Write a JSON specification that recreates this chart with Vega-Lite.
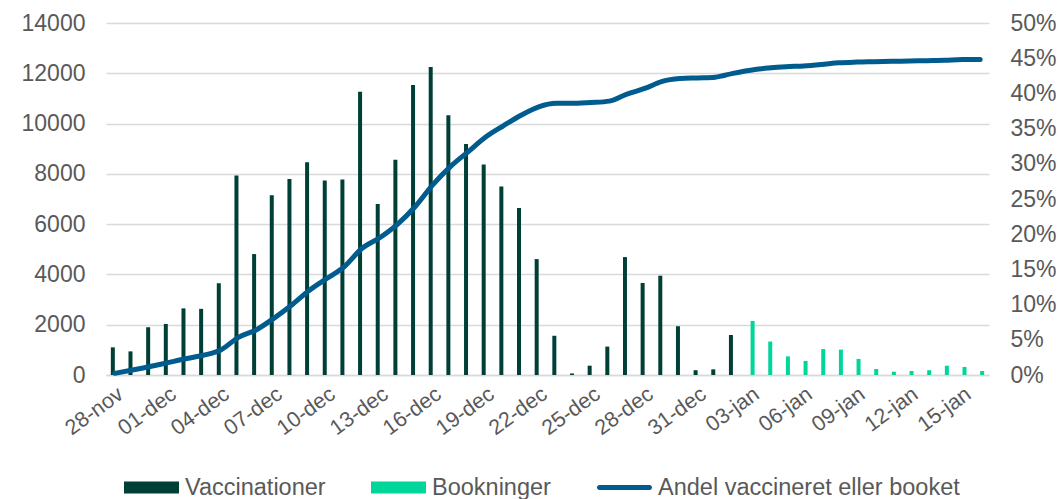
{
  "$schema": "https://vega.github.io/schema/vega-lite/v6.json",
  "width": 883,
  "height": 352,
  "autosize": {"type": "none"},
  "padding": {"left": 106, "top": 23, "right": 72, "bottom": 124},
  "config": {
    "view": {"stroke": null},
    "font": "Liberation Sans",
    "axis": {"labelFont": "Liberation Sans", "labelColor": "#595959", "labelFontSize": 23, "ticks": false, "tickSize": 0, "title": null, "domain": false, "gridColor": "#d9d9d9", "gridWidth": 1.5}
  },
  "datasets": {
    "bars": [
      {"date": "28-nov", "serie": "Vaccinationer", "value": 1100},
      {"date": "29-nov", "serie": "Vaccinationer", "value": 940},
      {"date": "30-nov", "serie": "Vaccinationer", "value": 1900},
      {"date": "01-dec", "serie": "Vaccinationer", "value": 2030},
      {"date": "02-dec", "serie": "Vaccinationer", "value": 2650},
      {"date": "03-dec", "serie": "Vaccinationer", "value": 2630},
      {"date": "04-dec", "serie": "Vaccinationer", "value": 3650},
      {"date": "05-dec", "serie": "Vaccinationer", "value": 7930},
      {"date": "06-dec", "serie": "Vaccinationer", "value": 4810},
      {"date": "07-dec", "serie": "Vaccinationer", "value": 7150},
      {"date": "08-dec", "serie": "Vaccinationer", "value": 7800},
      {"date": "09-dec", "serie": "Vaccinationer", "value": 8460},
      {"date": "10-dec", "serie": "Vaccinationer", "value": 7740},
      {"date": "11-dec", "serie": "Vaccinationer", "value": 7780},
      {"date": "12-dec", "serie": "Vaccinationer", "value": 11270},
      {"date": "13-dec", "serie": "Vaccinationer", "value": 6800},
      {"date": "14-dec", "serie": "Vaccinationer", "value": 8560},
      {"date": "15-dec", "serie": "Vaccinationer", "value": 11530},
      {"date": "16-dec", "serie": "Vaccinationer", "value": 12250},
      {"date": "17-dec", "serie": "Vaccinationer", "value": 10330},
      {"date": "18-dec", "serie": "Vaccinationer", "value": 9190},
      {"date": "19-dec", "serie": "Vaccinationer", "value": 8370},
      {"date": "20-dec", "serie": "Vaccinationer", "value": 7500},
      {"date": "21-dec", "serie": "Vaccinationer", "value": 6640},
      {"date": "22-dec", "serie": "Vaccinationer", "value": 4610},
      {"date": "23-dec", "serie": "Vaccinationer", "value": 1560},
      {"date": "24-dec", "serie": "Vaccinationer", "value": 60},
      {"date": "25-dec", "serie": "Vaccinationer", "value": 370},
      {"date": "26-dec", "serie": "Vaccinationer", "value": 1130},
      {"date": "27-dec", "serie": "Vaccinationer", "value": 4690},
      {"date": "28-dec", "serie": "Vaccinationer", "value": 3660},
      {"date": "29-dec", "serie": "Vaccinationer", "value": 3950},
      {"date": "30-dec", "serie": "Vaccinationer", "value": 1940},
      {"date": "31-dec", "serie": "Vaccinationer", "value": 190},
      {"date": "01-jan", "serie": "Vaccinationer", "value": 225},
      {"date": "02-jan", "serie": "Vaccinationer", "value": 1590},
      {"date": "03-jan", "serie": "Bookninger", "value": 2150},
      {"date": "04-jan", "serie": "Bookninger", "value": 1330},
      {"date": "05-jan", "serie": "Bookninger", "value": 740},
      {"date": "06-jan", "serie": "Bookninger", "value": 560},
      {"date": "07-jan", "serie": "Bookninger", "value": 1030},
      {"date": "08-jan", "serie": "Bookninger", "value": 1010},
      {"date": "09-jan", "serie": "Bookninger", "value": 640},
      {"date": "10-jan", "serie": "Bookninger", "value": 240},
      {"date": "11-jan", "serie": "Bookninger", "value": 130},
      {"date": "12-jan", "serie": "Bookninger", "value": 160},
      {"date": "13-jan", "serie": "Bookninger", "value": 190},
      {"date": "14-jan", "serie": "Bookninger", "value": 370},
      {"date": "15-jan", "serie": "Bookninger", "value": 320},
      {"date": "16-jan", "serie": "Bookninger", "value": 160}
    ],
    "line": [
      {"date": "28-nov", "andel": 0.0024},
      {"date": "29-nov", "andel": 0.007},
      {"date": "30-nov", "andel": 0.012},
      {"date": "01-dec", "andel": 0.0175},
      {"date": "02-dec", "andel": 0.023},
      {"date": "03-dec", "andel": 0.028},
      {"date": "04-dec", "andel": 0.0355},
      {"date": "05-dec", "andel": 0.0535},
      {"date": "06-dec", "andel": 0.064},
      {"date": "07-dec", "andel": 0.0805},
      {"date": "08-dec", "andel": 0.099},
      {"date": "09-dec", "andel": 0.12},
      {"date": "10-dec", "andel": 0.137},
      {"date": "11-dec", "andel": 0.154},
      {"date": "12-dec", "andel": 0.18},
      {"date": "13-dec", "andel": 0.195},
      {"date": "14-dec", "andel": 0.214},
      {"date": "15-dec", "andel": 0.239},
      {"date": "16-dec", "andel": 0.27},
      {"date": "17-dec", "andel": 0.296},
      {"date": "18-dec", "andel": 0.317},
      {"date": "19-dec", "andel": 0.338},
      {"date": "20-dec", "andel": 0.354},
      {"date": "21-dec", "andel": 0.369},
      {"date": "22-dec", "andel": 0.381},
      {"date": "23-dec", "andel": 0.386},
      {"date": "24-dec", "andel": 0.386},
      {"date": "25-dec", "andel": 0.387},
      {"date": "26-dec", "andel": 0.389},
      {"date": "27-dec", "andel": 0.399},
      {"date": "28-dec", "andel": 0.407},
      {"date": "29-dec", "andel": 0.417},
      {"date": "30-dec", "andel": 0.421},
      {"date": "31-dec", "andel": 0.422},
      {"date": "01-jan", "andel": 0.423},
      {"date": "02-jan", "andel": 0.4285},
      {"date": "03-jan", "andel": 0.433},
      {"date": "04-jan", "andel": 0.436},
      {"date": "05-jan", "andel": 0.438},
      {"date": "06-jan", "andel": 0.439},
      {"date": "07-jan", "andel": 0.441},
      {"date": "08-jan", "andel": 0.4435},
      {"date": "09-jan", "andel": 0.4445},
      {"date": "10-jan", "andel": 0.445},
      {"date": "11-jan", "andel": 0.4455},
      {"date": "12-jan", "andel": 0.446},
      {"date": "13-jan", "andel": 0.4465},
      {"date": "14-jan", "andel": 0.447},
      {"date": "15-jan", "andel": 0.448},
      {"date": "16-jan", "andel": 0.448}
    ]
  },
  "layer": [
    {
      "data": {"name": "bars"},
      "mark": {"type": "bar"},
      "encoding": {
        "x": {
          "field": "date", "type": "ordinal",
          "scale": {
            "domain": ["28-nov","29-nov","30-nov","01-dec","02-dec","03-dec","04-dec","05-dec","06-dec","07-dec","08-dec","09-dec","10-dec","11-dec","12-dec","13-dec","14-dec","15-dec","16-dec","17-dec","18-dec","19-dec","20-dec","21-dec","22-dec","23-dec","24-dec","25-dec","26-dec","27-dec","28-dec","29-dec","30-dec","31-dec","01-jan","02-jan","03-jan","04-jan","05-jan","06-jan","07-jan","08-jan","09-jan","10-jan","11-jan","12-jan","13-jan","14-jan","15-jan","16-jan"],
            "paddingInner": 0.547, "paddingOuter": 0.2735
          },
          "axis": {
            "values": ["28-nov","01-dec","04-dec","07-dec","10-dec","13-dec","16-dec","19-dec","22-dec","25-dec","28-dec","31-dec","03-jan","06-jan","09-jan","12-jan","15-jan"],
            "labelAngle": -36, "labelFontSize": 21.5, "labelPadding": 8, "domain": true, "domainColor": "#d9d9d9", "domainWidth": 1.5, "grid": false
          }
        },
        "xOffset": {"field": "serie", "type": "nominal", "scale": {"domain": ["Vaccinationer", "Bookninger"], "paddingInner": 0}},
        "y": {
          "field": "value", "type": "quantitative",
          "scale": {"domain": [0, 14000]},
          "axis": {"values": [0,2000,4000,6000,8000,10000,12000,14000], "format": "d", "grid": true, "labelPadding": 21, "orient": "left"}
        },
        "color": {
          "field": "serie", "type": "nominal",
          "scale": {"domain": ["Vaccinationer", "Bookninger", "Andel vaccineret eller booket"], "range": ["#003f36", "#00d59a", "#005b8e"]},
          "legend": {
            "title": null, "orient": "none", "legendX": 18, "legendY": 437, "direction": "horizontal",
            "labelFont": "Liberation Sans", "labelFontSize": 23.5, "labelColor": "#595959", "labelLimit": 400,
            "symbolSize": 3025, "symbolStrokeWidth": 0, "labelOffset": 6, "columnPadding": 45,
            "symbolType": "M-1,-0.22H1V0.22H-1Z",
            "encode": {"symbols": {"update": {"shape": {"signal": "datum.value === 'Andel vaccineret eller booket' ? 'M-0.91,-0.09H0.91A0.09,0.09 0 0 1 0.91,0.09H-0.91A0.09,0.09 0 0 1 -0.91,-0.09Z' : 'M-1,-0.22H1V0.22H-1Z'"}}}}
          }
        }
      }
    },
    {
      "data": {"name": "line"},
      "mark": {"type": "line", "strokeWidth": 5, "strokeCap": "round", "strokeJoin": "round", "interpolate": "monotone"},
      "encoding": {
        "x": {"field": "date", "type": "ordinal"},
        "y": {
          "field": "andel", "type": "quantitative",
          "scale": {"domain": [0, 0.5]},
          "axis": {"orient": "right", "values": [0,0.05,0.1,0.15,0.2,0.25,0.3,0.35,0.4,0.45,0.5], "format": ".0%", "grid": false, "labelPadding": 21}
        },
        "color": {"datum": "Andel vaccineret eller booket"}
      }
    }
  ],
  "resolve": {"scale": {"y": "independent"}}
}
